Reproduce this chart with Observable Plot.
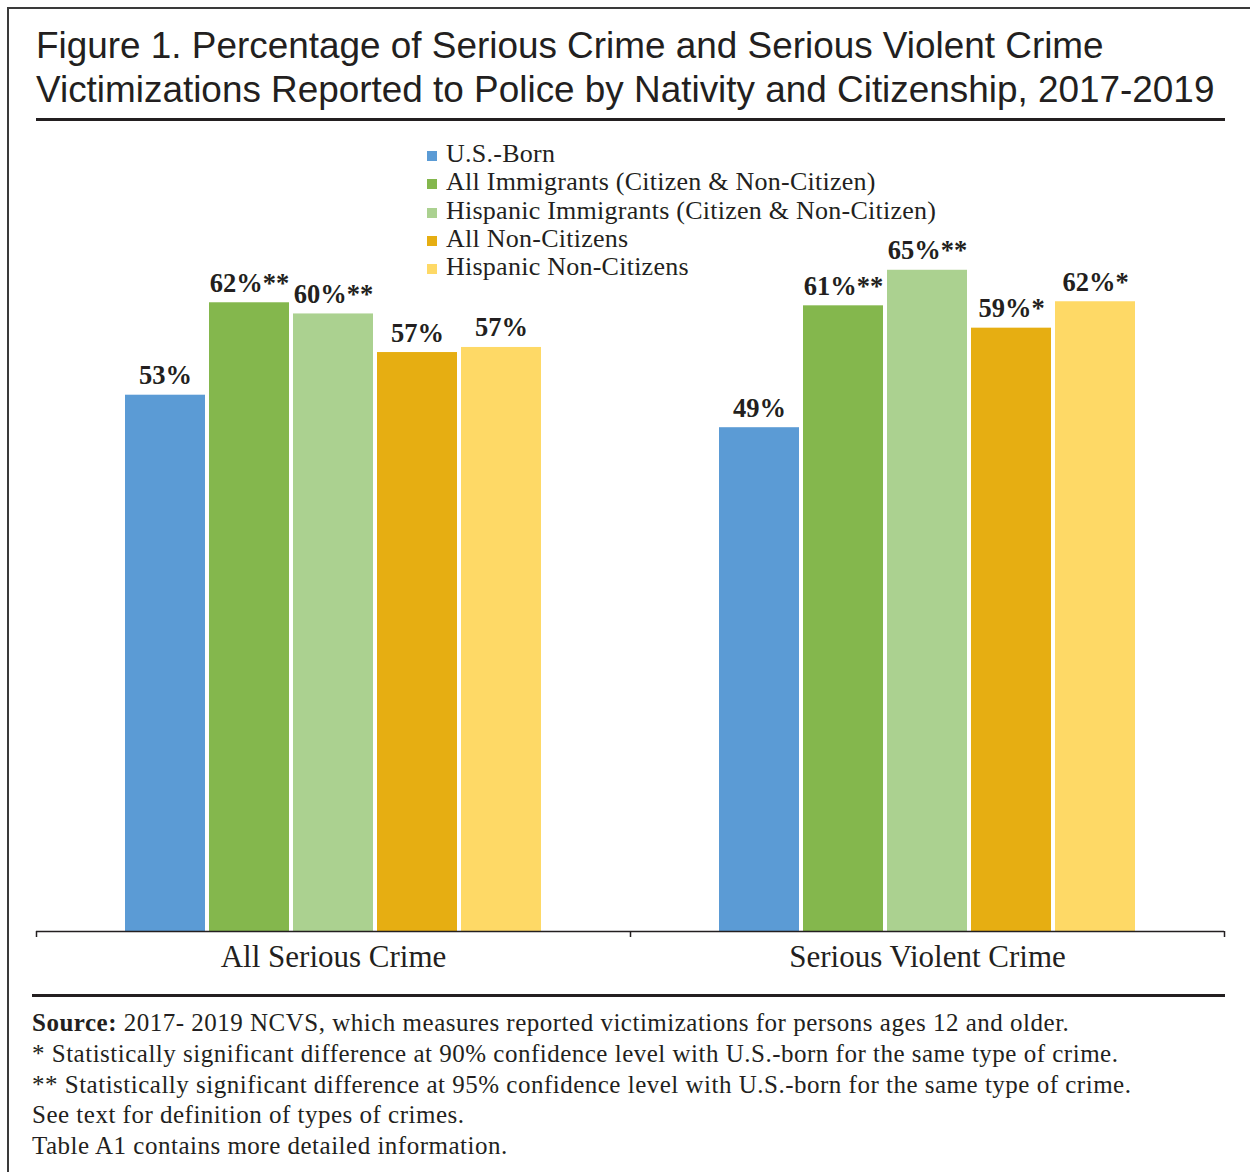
<!DOCTYPE html>
<html>
<head>
<meta charset="utf-8">
<script src="https://cdn.jsdelivr.net/npm/d3@7"></script>
<script src="https://cdn.jsdelivr.net/npm/@observablehq/plot@0.6"></script>
<style>
  html, body { margin: 0; padding: 0; background: #fff; }
  body { width: 1250px; height: 1172px; overflow: hidden; position: relative; color: #231f20; font-family: "Liberation Serif", "Times New Roman", serif; }
  #frame { position: absolute; left: 7px; top: 7px; width: 1400px; height: 1400px; border-top: 2px solid #3a3a3a; border-left: 2px solid #3a3a3a; }
  #title { position: absolute; left: 36px; top: 24px; font-family: "Liberation Sans", Arial, sans-serif; font-size: 36.9px; line-height: 44px; color: #231f20; white-space: nowrap; }
  #titleRule { position: absolute; left: 36px; top: 118px; width: 1189px; height: 3px; background: #231f20; }
  #legend { position: absolute; left: 446px; top: 140px; font-size: 26px; letter-spacing: 0.25px; line-height: 28.3px; white-space: nowrap; }
  #legend .row { position: relative; }
  #legend .sw { position: absolute; left: -19px; top: 11px; width: 10px; height: 10px; }
  #chart { position: absolute; left: 0; top: 131px; }
  #bottomRule { position: absolute; left: 32px; top: 994px; width: 1193px; height: 3px; background: #231f20; }
  #footer { position: absolute; left: 32px; top: 1008px; font-size: 25px; letter-spacing: 0.5px; line-height: 30.75px; white-space: nowrap; }
</style>
</head>
<body>
<div id="frame"></div>
<div id="title">Figure 1. Percentage of Serious Crime and Serious Violent Crime<br>Victimizations Reported to Police by Nativity and Citizenship, 2017-2019</div>
<div id="titleRule"></div>
<div id="legend"></div>
<div id="chart"></div>
<div id="bottomRule"></div>
<div id="footer">
  <div><b>Source:</b> 2017- 2019 NCVS, which measures reported victimizations for persons ages 12 and older.</div>
  <div>* Statistically significant difference at 90% confidence level with U.S.-born for the same type of crime.</div>
  <div>** Statistically significant difference at 95% confidence level with U.S.-born for the same type of crime.</div>
  <div>See text for definition of types of crimes.</div>
  <div>Table A1 contains more detailed information.</div>
</div>
<script>
// ---- data ----
const categories = ["All Serious Crime", "Serious Violent Crime"];
const series = [
  "U.S.-Born",
  "All Immigrants (Citizen & Non-Citizen)",
  "Hispanic Immigrants (Citizen & Non-Citizen)",
  "All Non-Citizens",
  "Hispanic Non-Citizens"
];
const colors = ["#5B9BD5", "#84B74D", "#ABD190", "#E6AE12", "#FED966"];
const allSeriousValues = [52.8, 61.9, 60.8, 57.0, 57.5];
const seriousViolentValues = [49.6, 61.6, 65.1, 59.4, 62.0];
const allSeriousLabels = ["53%", "62%**", "60%**", "57%", "57%"];
const seriousViolentLabels = ["49%", "61%**", "65%**", "59%*", "62%*"];

// ---- table built from arrays ----
const data = [];
series.forEach((s, i) => data.push({category: categories[0], series: s, value: allSeriousValues[i], label: allSeriousLabels[i]}));
series.forEach((s, i) => data.push({category: categories[1], series: s, value: seriousViolentValues[i], label: seriousViolentLabels[i]}));

// ---- legend ----
const legend = document.getElementById("legend");
series.forEach((s, i) => {
  const row = document.createElement("div");
  row.className = "row";
  const sw = document.createElement("span");
  sw.className = "sw";
  sw.style.background = colors[i];
  row.appendChild(sw);
  row.appendChild(document.createTextNode(s));
  legend.appendChild(row);
});

// ---- chart ----
const W = 1250, H = 850;
const mL = 36, mR = 26, mT = 89, mB = 50;
const facetWidth = (W - mL - mR) / categories.length;
const ink = "#231f20";
const leftTicks = categories.map(c => ({category: c}));
const rightTicks = [{category: categories[categories.length - 1]}];

const chart = Plot.plot({
  width: W,
  height: H,
  marginLeft: mL,
  marginRight: mR,
  marginTop: mT,
  marginBottom: mB,
  style: {fontFamily: "Liberation Serif, serif", color: ink, background: "transparent", overflow: "visible"},
  fx: {domain: categories, padding: 0, label: null},
  x: {domain: series, paddingInner: 0.0473, paddingOuter: 1.0385, axis: null},
  y: {domain: [0, 70], axis: null},
  color: {domain: series, range: colors},
  marks: [
    Plot.barY(data, {fx: "category", x: "series", y: "value", fill: "series"}),
    Plot.text(data, {fx: "category", x: "series", y: "value", text: "label", lineAnchor: "bottom", dy: -11,
      fontSize: 26.5, fontWeight: "bold", fill: ink, fontFamily: "Liberation Serif, serif"}),
    Plot.ruleY([0], {stroke: ink, strokeWidth: 1.5}),
    Plot.ruleX(leftTicks, {fx: "category", x: null, y1: 0, y2: 0, insetBottom: -6, dx: -facetWidth / 2, stroke: ink, strokeWidth: 1.5}),
    Plot.ruleX(rightTicks, {fx: "category", x: null, y1: 0, y2: 0, insetBottom: -6, dx: facetWidth / 2, stroke: ink, strokeWidth: 1.5}),
    Plot.axisFx({anchor: "bottom", tickSize: 0, tickPadding: 13, fontSize: 31, label: null, fill: ink, fontFamily: "Liberation Serif, serif"})
  ]
});
document.getElementById("chart").appendChild(chart);
</script>
</body>
</html>
